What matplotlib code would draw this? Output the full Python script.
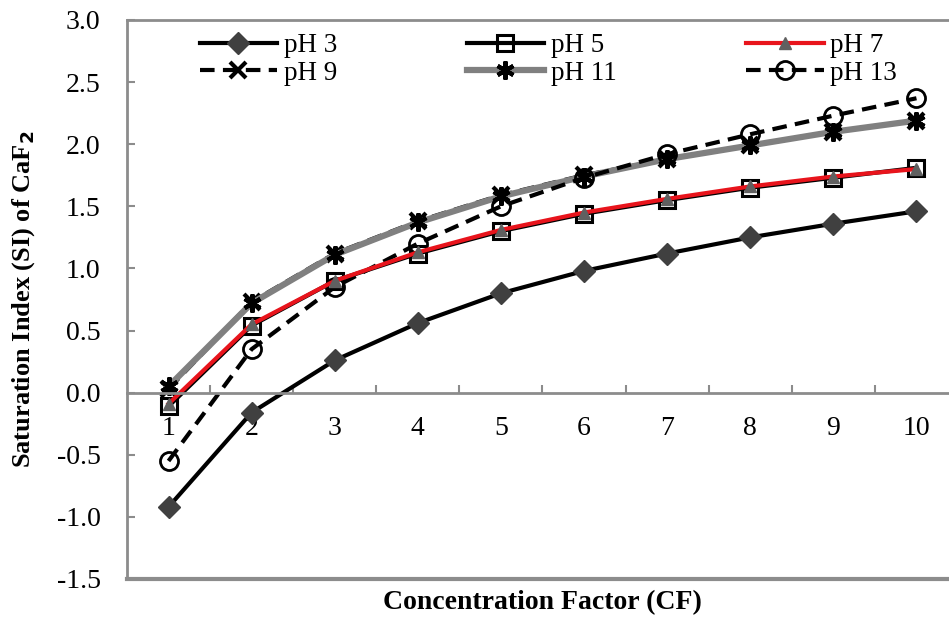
import numpy as np
import matplotlib
matplotlib.use("Agg")
from matplotlib import pyplot as plt

plt.rcParams['font.family'] = ['Liberation Serif', 'DejaVu Serif']

cf = [1, 2, 3, 4, 5, 6, 7, 8, 9, 10]
ph3 = [-0.92, -0.16, 0.26, 0.56, 0.80, 0.98, 1.12, 1.25, 1.36, 1.46]
ph5 = [-0.11, 0.54, 0.90, 1.12, 1.30, 1.44, 1.55, 1.65, 1.73, 1.81]
ph7 = [-0.09, 0.55, 0.90, 1.13, 1.31, 1.45, 1.56, 1.66, 1.74, 1.80]
ph9 = [0.03, 0.73, 1.12, 1.38, 1.59, 1.75, 1.88, 1.99, 2.10, 2.19]
ph11 = [0.05, 0.72, 1.11, 1.37, 1.58, 1.74, 1.88, 1.99, 2.10, 2.19]
ph13 = [-0.55, 0.35, 0.85, 1.20, 1.50, 1.73, 1.92, 2.08, 2.23, 2.37]

fig = plt.figure(figsize=(9.49, 6.17), dpi=100)
ax = fig.add_axes([0.1338, 0.0616, 0.8757, 0.906])

dash = (0, (3.5, 2))
# pH 9 drawn under pH 11
l9, = ax.plot(cf, ph9, color='black', lw=3, ls=dash, marker='x', ms=12, mew=3, mec='black')
l11, = ax.plot(cf, ph11, color='#808080', lw=4.5, marker=(6, 2, 0), ms=13, mew=3, mec='black')
l13, = ax.plot(cf, ph13, color='black', lw=3, ls=dash, marker='o', ms=13, mfc='none', mec='black', mew=2)
l3, = ax.plot(cf, ph3, color='black', lw=3, marker='D', ms=11, mfc='#404040', mec='#404040')
l5, = ax.plot(cf, ph5, color='black', lw=3, marker='s', ms=12, mfc='none', mec='black', mew=2.2)
l7, = ax.plot(cf, ph7, color='#e8141c', lw=3, marker='^', ms=9, mfc='#606060', mec='#606060')

ax.set_xlim(0.5, 10.5)
ax.set_ylim(-1.5, 3.0)

gray = '#8c8c8c'
for s in ['left', 'top', 'right']:
    ax.spines[s].set_color(gray)
    ax.spines[s].set_linewidth(2)
ax.spines['bottom'].set_position(('data', 0))
ax.spines['bottom'].set_color(gray)
ax.spines['bottom'].set_linewidth(2)
ax.axhline(-1.5, color=gray, lw=3, clip_on=False)

ax.set_xticks(cf)
ax.set_xticklabels([str(c) for c in cf])
ax.set_xticks(np.arange(1.5, 10.6, 1.0), minor=True)
ax.tick_params(axis='x', which='major', length=0, pad=17, labelsize=20)
ax.tick_params(axis='x', which='minor', direction='in', length=6, width=1.5, color=gray)

ax.set_yticks(np.arange(-1.5, 3.01, 0.5))
ax.set_yticklabels(['%.1f' % v for v in np.arange(-1.5, 3.01, 0.5)])
ax.tick_params(axis='y', direction='in', length=6, width=1.5, color=gray, labelsize=20, pad=19)

ax.set_xlabel('Concentration Factor (CF)', fontsize=20, fontweight='bold')
ax.xaxis.set_label_coords(0.5, -0.02)
ax.set_ylabel('Saturation Index (SI) of CaF$_\\mathbf{2}$', fontsize=19, fontweight='bold')
ax.yaxis.set_label_coords(-0.108, 0.5)

handles = [l3, l9, l5, l11, l7, l13]
labels = ['pH 3', 'pH 9', 'pH 5', 'pH 11', 'pH 7', 'pH 13']
ax.legend(handles, labels, ncol=3, loc='upper left', bbox_to_anchor=(0.058, 1.02),
          frameon=False, fontsize=19.5, handlelength=2.85, handletextpad=0.25,
          columnspacing=4.8, labelspacing=0.1)

fig.savefig('out.png', dpi=100)
